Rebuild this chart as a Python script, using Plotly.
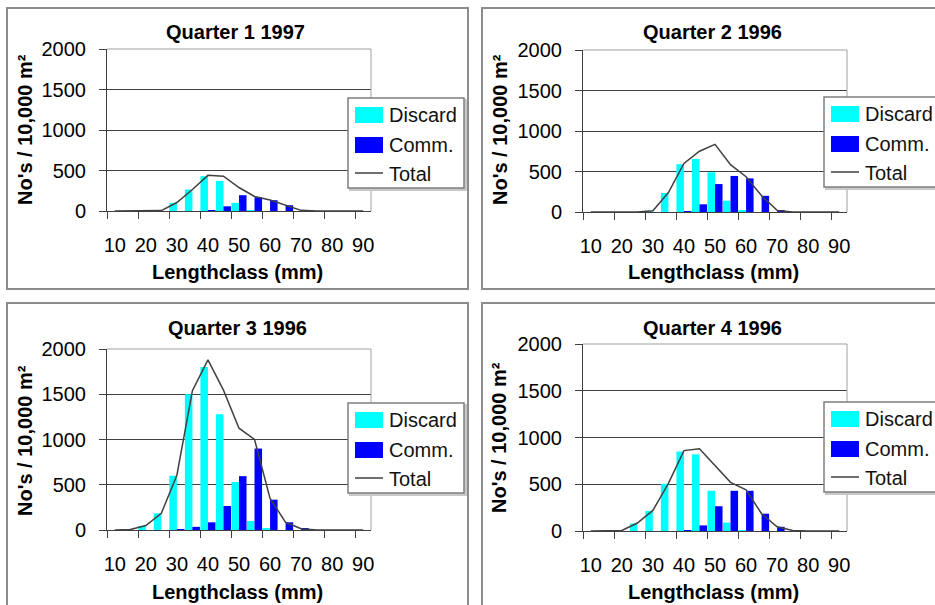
import plotly.graph_objects as go

# ---------------- data ----------------
length_class = [10, 15, 20, 25, 30, 35, 40, 45, 50, 55, 60, 65, 70, 75, 80, 85, 90]
tick_values = [10, 20, 30, 40, 50, 60, 70, 80, 90]
tick_labels = ["10", "20", "30", "40", "50", "60", "70", "80", "90"]
y_tick_values = [0, 500, 1000, 1500, 2000]
y_tick_labels = ["0", "500", "1000", "1500", "2000"]

q1_1997_discard = [0, 0, 0, 2, 100, 265, 430, 372, 100, 5, 0, 0, 0, 0, 0, 0, 0]
q1_1997_comm = [0, 0, 0, 0, 0, 0, 5, 58, 195, 170, 133, 71, 5, 0, 0, 0, 0]
q1_1997_total = [0, 0, 0, 5, 105, 265, 440, 430, 290, 180, 135, 72, 8, 0, 0, 0, 0]

q2_1996_discard = [0, 0, 0, 0, 10, 235, 590, 655, 490, 140, 18, 0, 0, 0, 0, 0, 0]
q2_1996_comm = [0, 0, 0, 0, 0, 0, 10, 95, 345, 445, 415, 200, 18, 0, 0, 0, 0]
q2_1996_total = [0, 0, 0, 0, 15, 240, 600, 750, 835, 585, 435, 200, 20, 0, 0, 0, 0]

q3_1996_discard = [0, 0, 45, 185, 600, 1500, 1800, 1280, 530, 100, 15, 0, 0, 0, 0, 0, 0]
q3_1996_comm = [0, 0, 0, 0, 5, 35, 85, 265, 595, 900, 335, 85, 15, 0, 0, 0, 0]
q3_1996_total = [0, 5, 50, 185, 605, 1540, 1880, 1545, 1125, 1000, 350, 85, 15, 0, 0, 0, 0]

q4_1996_discard = [0, 0, 0, 80, 215, 505, 850, 820, 430, 90, 10, 0, 0, 0, 0, 0, 0]
q4_1996_comm = [0, 0, 0, 0, 0, 0, 10, 60, 265, 430, 430, 185, 45, 0, 0, 0, 0]
q4_1996_total = [0, 0, 5, 85, 220, 510, 860, 880, 695, 520, 440, 185, 45, 5, 0, 0, 0]

panel_titles = ["Quarter 1 1997", "Quarter 2 1996", "Quarter 3 1996", "Quarter 4 1996"]
series_names = ["Discard", "Comm.", "Total"]
x_title = "Lengthclass (mm)"
y_title = "No's / 10,000 m²"

# ---------------- layout geometry (pixels) ----------------
W, H = 935, 605
FONT = "Liberation Sans, Arial, sans-serif"
C_DISCARD = "#00FFFF"
C_COMM = "#0000FF"
C_TOTAL = "#404040"
C_AXIS = "#404040"
C_GRID = "#404040"
C_BORDER = "#a0a0a0"

panels = [
    dict(box=(7, 8, 468, 289), plot=(107, 49, 371, 211), title=(236, 32), xt=(237, 272), yt=(25, 130), leg=(348, 98),
         data=(q1_1997_discard, q1_1997_comm, q1_1997_total)),
    dict(box=(482, 8, 950, 289), plot=(583, 50, 847, 212), title=(712, 32), xt=(713, 272), yt=(500, 130), leg=(824, 97),
         data=(q2_1996_discard, q2_1996_comm, q2_1996_total)),
    dict(box=(7, 303, 468, 620), plot=(107, 349, 371, 530), title=(237, 328), xt=(237, 592), yt=(25, 441), leg=(348, 403),
         data=(q3_1996_discard, q3_1996_comm, q3_1996_total)),
    dict(box=(482, 303, 950, 620), plot=(583, 344, 847, 531), title=(712, 328), xt=(713, 592), yt=(499, 438), leg=(824, 402),
         data=(q4_1996_discard, q4_1996_comm, q4_1996_total)),
]


def fx(x):
    return x / W


def fy(y):
    return 1 - y / H


boundary_ticks = [v - 2.5 for v in tick_values]

fig = go.Figure()
shapes = []
annotations = []
layout = dict(
    width=W, height=H, margin=dict(l=0, r=0, t=0, b=0, autoexpand=False),
    paper_bgcolor="white", plot_bgcolor="white",
    barmode="group", bargap=0.03, bargroupgap=0.0,
    showlegend=False, font=dict(family=FONT, size=20, color="black"),
)

for k, p in enumerate(panels):
    n = "" if k == 0 else str(k + 1)
    xa, ya = "x" + n, "y" + n
    disc, comm, tot = p["data"]
    fig.add_trace(go.Bar(x=length_class, y=disc, name=series_names[0], marker=dict(color=C_DISCARD, line=dict(width=0)),
                         xaxis=xa, yaxis=ya))
    fig.add_trace(go.Bar(x=length_class, y=comm, name=series_names[1], marker=dict(color=C_COMM, line=dict(width=0)),
                         xaxis=xa, yaxis=ya))
    fig.add_trace(go.Scatter(x=length_class, y=tot, name=series_names[2], mode="lines",
                             line=dict(color=C_TOTAL, width=1.5), xaxis=xa, yaxis=ya))

    x0, y0, x1, y1 = p["plot"]
    layout["xaxis" + n] = dict(
        domain=[fx(x0), fx(x1)], anchor=ya, range=[7.5, 92.5], fixedrange=True,
        tickmode="array", tickvals=tick_values, ticktext=tick_labels, ticks="",
        tickfont=dict(family=FONT, size=20, color="black"), ticklabelstandoff=16,
        showline=True, linecolor=C_AXIS, linewidth=1, showgrid=False, zeroline=False,
        minor=dict(tickmode="array", tickvals=boundary_ticks, ticks="outside", ticklen=7,
                   tickcolor=C_AXIS, tickwidth=1, showgrid=False),
    )
    layout["yaxis" + n] = dict(
        domain=[fy(y1), fy(y0)], anchor=xa, range=[0, 2000], fixedrange=True,
        tickmode="array", tickvals=y_tick_values, ticktext=y_tick_labels,
        ticks="outside", ticklen=7, tickcolor=C_AXIS, tickwidth=1,
        tickfont=dict(family=FONT, size=20, color="black"), ticklabelstandoff=9,
        showline=True, linecolor=C_AXIS, linewidth=1,
        showgrid=True, gridcolor=C_GRID, gridwidth=1.2, zeroline=False,
    )

    # plot-area border (top and right)
    shapes.append(dict(type="line", xref="paper", yref="paper", x0=fx(x0), x1=fx(x1), y0=fy(y0), y1=fy(y0),
                       line=dict(color=C_BORDER, width=1.2), layer="above"))
    shapes.append(dict(type="line", xref="paper", yref="paper", x0=fx(x1), x1=fx(x1), y0=fy(y0), y1=fy(y1),
                       line=dict(color=C_BORDER, width=1), layer="above"))

    # chart frame
    bx0, by0, bx1, by1 = p["box"]
    shapes.append(dict(type="rect", xref="paper", yref="paper", x0=fx(bx0), x1=fx(bx1), y0=fy(by1), y1=fy(by0),
                       line=dict(color="#8c8c8c", width=2), layer="below"))

    # title, axis titles
    annotations.append(dict(xref="paper", yref="paper", x=fx(p["title"][0]), y=fy(p["title"][1]),
                            text="<b>%s</b>" % panel_titles[k], showarrow=False, xanchor="center", yanchor="middle",
                            font=dict(family=FONT, size=20, color="black")))
    annotations.append(dict(xref="paper", yref="paper", x=fx(p["xt"][0]), y=fy(p["xt"][1]),
                            text="<b>%s</b>" % x_title, showarrow=False, xanchor="center", yanchor="middle",
                            font=dict(family=FONT, size=20, color="black")))
    annotations.append(dict(xref="paper", yref="paper", x=fx(p["yt"][0]), y=fy(p["yt"][1]),
                            text="<b>%s</b>" % y_title, showarrow=False, xanchor="center", yanchor="middle",
                            textangle=-90, font=dict(family=FONT, size=20, color="black")))

    # legend box
    lx, ly = p["leg"]
    shapes.append(dict(type="rect", xref="paper", yref="paper", x0=fx(lx + 2), x1=fx(lx + 118), y0=fy(ly + 92), y1=fy(ly + 2),
                       line=dict(color="#c8c8c8", width=2), fillcolor="#c8c8c8", layer="above"))
    shapes.append(dict(type="rect", xref="paper", yref="paper", x0=fx(lx), x1=fx(lx + 116), y0=fy(ly + 90), y1=fy(ly),
                       line=dict(color="#7f7f7f", width=1.5), fillcolor="white", layer="above"))
    shapes.append(dict(type="rect", xref="paper", yref="paper", x0=fx(lx + 7), x1=fx(lx + 35), y0=fy(ly + 25), y1=fy(ly + 9),
                       line=dict(width=0), fillcolor=C_DISCARD, layer="above"))
    shapes.append(dict(type="rect", xref="paper", yref="paper", x0=fx(lx + 7), x1=fx(lx + 35), y0=fy(ly + 55), y1=fy(ly + 39),
                       line=dict(width=0), fillcolor=C_COMM, layer="above"))
    shapes.append(dict(type="line", xref="paper", yref="paper", x0=fx(lx + 7), x1=fx(lx + 35), y0=fy(ly + 75), y1=fy(ly + 75),
                       line=dict(color=C_TOTAL, width=1.5), layer="above"))
    for j, dy in enumerate([17, 47, 76]):
        annotations.append(dict(xref="paper", yref="paper", x=fx(lx + 39), y=fy(ly + dy), text=series_names[j],
                                showarrow=False, xanchor="left", yanchor="middle",
                                font=dict(family=FONT, size=20, color="#111111")))

layout["shapes"] = shapes
layout["annotations"] = annotations
fig.update_layout(**layout)
fig.write_html("out.html")
